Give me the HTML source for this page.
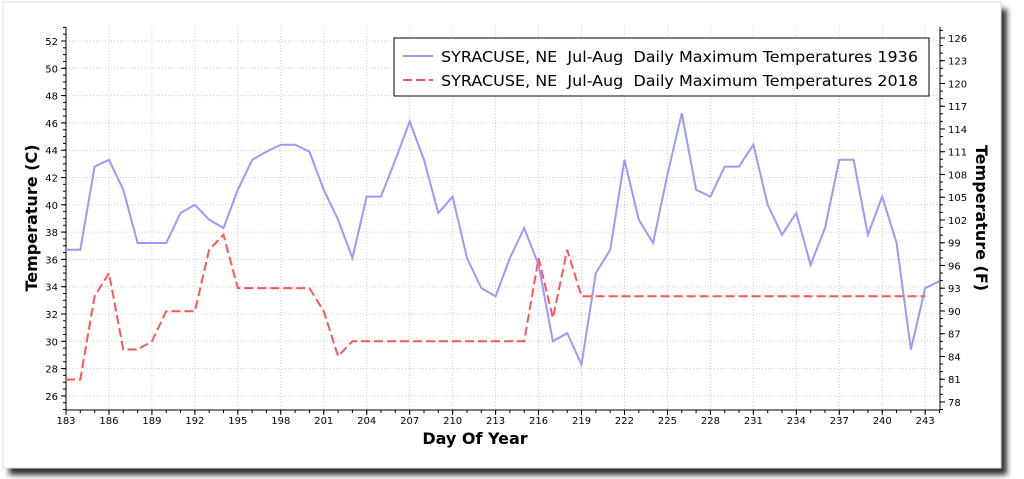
<!DOCTYPE html>
<html><head><meta charset="utf-8"><style>
html,body{margin:0;padding:0;background:#fff;width:1024px;height:479px;overflow:hidden}
svg{position:absolute;left:0;top:0;font-family:"DejaVu Sans","Liberation Sans",sans-serif}
text{white-space:pre}
</style></head><body>
<svg id="s" width="1024" height="479" viewBox="0 0 1024 479">
<defs><filter id="sh" x="-5%" y="-5%" width="110%" height="115%"><feGaussianBlur stdDeviation="3"/></filter></defs>
<rect x="9" y="9" width="998" height="466" fill="#333" filter="url(#sh)"/>
<rect x="3" y="2" width="998" height="466" fill="#fff" stroke="#ddd" stroke-width="1"/>
<g id="g"></g>
<text x="475" y="444" font-size="16" font-weight="bold" text-anchor="middle" fill="#000">Day Of Year</text>
<text transform="translate(37,218) rotate(-90)" font-size="16" font-weight="bold" text-anchor="middle">Temperature (C)</text>
<text transform="translate(976,218) rotate(90)" font-size="16" font-weight="bold" text-anchor="middle">Temperature (F)</text>
<rect x="394" y="38" width="535" height="58" fill="#fff" stroke="#000" stroke-width="1"/>
<line x1="403" y1="56" x2="433" y2="56" stroke="#9999ff" stroke-width="2"/>
<line x1="403" y1="80" x2="433" y2="80" stroke="#ff5555" stroke-width="2" stroke-dasharray="9,4"/>
<text x="441" y="62" font-size="15.5" textLength="477" lengthAdjust="spacingAndGlyphs" xml:space="preserve">SYRACUSE, NE  Jul-Aug  Daily Maximum Temperatures 1936</text>
<text x="441" y="86" font-size="15.5" textLength="477" lengthAdjust="spacingAndGlyphs" xml:space="preserve">SYRACUSE, NE  Jul-Aug  Daily Maximum Temperatures 2018</text>
</svg>
<script>
var g=document.getElementById('g'),h='';
function X(d){return 66+(d-183)*14.32}
function Y(c){return 41+(52-c)*13.65}
var L=66,R=940,T=27,B=410;
for(var d=183;d<=243;d+=3){var x=X(d);h+='<line x1="'+x+'" y1="'+T+'" x2="'+x+'" y2="'+B+'" stroke="#ccc" stroke-dasharray="1,2"/>';
h+='<line x1="'+x+'" y1="'+B+'" x2="'+x+'" y2="'+(B+5)+'" stroke="#000"/>';
h+='<text x="'+x+'" y="'+(B+14)+'" font-size="10" text-anchor="middle">'+d+'</text>';}
for(var d=183;d<=244;d++){var x=X(d);h+='<line x1="'+x+'" y1="'+B+'" x2="'+x+'" y2="'+(B+3)+'" stroke="#000"/>';}
for(var c=26;c<=52;c+=2){var y=Y(c);h+='<line x1="'+L+'" y1="'+y+'" x2="'+R+'" y2="'+y+'" stroke="#ccc" stroke-dasharray="1,2"/>';
h+='<line x1="'+(L-5)+'" y1="'+y+'" x2="'+L+'" y2="'+y+'" stroke="#000"/>';
h+='<text x="'+(L-8)+'" y="'+(y+4)+'" font-size="10" text-anchor="end">'+c+'</text>';}
for(var c=25;c<=53;c+=0.5){var y=Y(c);h+='<line x1="'+(L-3)+'" y1="'+y+'" x2="'+L+'" y2="'+y+'" stroke="#000"/>';}
for(var f=78;f<=126;f+=3){var y=Y((f-32)/1.8);h+='<line x1="'+R+'" y1="'+y+'" x2="'+(R+5)+'" y2="'+y+'" stroke="#000"/>';
h+='<text x="'+(R+8)+'" y="'+(y+4)+'" font-size="10">'+f+'</text>';}
for(var f=77;f<=127;f+=1){var y=Y((f-32)/1.8);if(y>=T&&y<=B)h+='<line x1="'+R+'" y1="'+y+'" x2="'+(R+3)+'" y2="'+y+'" stroke="#000"/>';}
h+='<line x1="'+L+'" y1="'+T+'" x2="'+L+'" y2="'+B+'" stroke="#000"/>';
h+='<line x1="'+R+'" y1="'+T+'" x2="'+R+'" y2="'+B+'" stroke="#000"/>';
h+='<line x1="'+L+'" y1="'+B+'" x2="'+R+'" y2="'+B+'" stroke="#000"/>';
var a=[36.7,36.7,42.8,43.3,41.1,37.2,37.2,37.2,39.4,40.0,38.9,38.3,41.1,43.3,43.9,44.4,44.4,43.9,41.1,38.9,36.1,40.6,40.6,43.3,46.1,43.3,39.4,40.6,36.1,33.9,33.3,36.1,38.3,35.6,30.0,30.6,28.3,35.0,36.7,43.3,38.9,37.2,42.2,46.7,41.1,40.6,42.8,42.8,44.4,40.0,37.8,39.4,35.6,38.3,43.3,43.3,37.8,40.6,37.2,29.4,33.9,34.4];
var b=[27.2,27.2,33.3,35.0,29.4,29.4,30.0,32.2,32.2,32.2,36.7,37.8,33.9,33.9,33.9,33.9,33.9,33.9,32.2,28.9,30,30,30,30,30,30,30,30,30,30,30,30,30,36.1,31.7,36.7,33.3];
while(b.length<61)b.push(33.3);
function P(v){return v.map(function(c,i){return X(183+i).toFixed(1)+','+Y(c).toFixed(1)}).join(' ')}
h+='<polyline points="'+P(a)+'" fill="none" stroke="#9999ff" stroke-width="2"/>';
h+='<polyline points="'+P(b)+'" fill="none" stroke="#ff5555" stroke-width="2" stroke-dasharray="9,4"/>';
g.innerHTML=h;
</script>
</body></html>
